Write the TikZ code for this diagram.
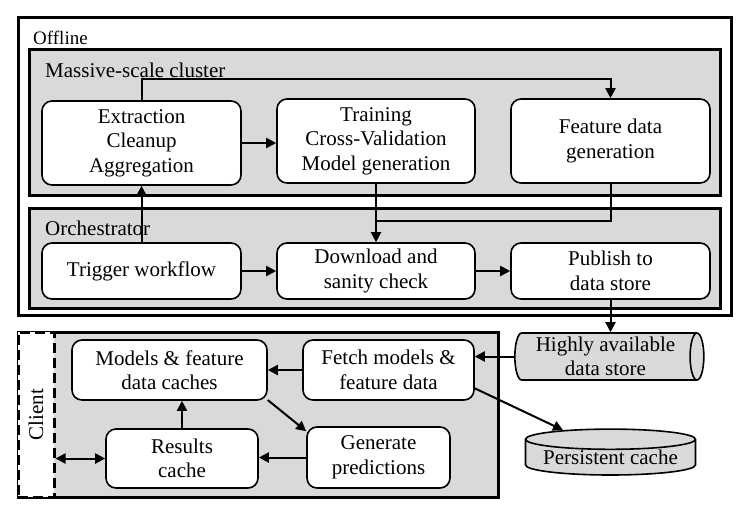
\documentclass[tikz,border=0pt]{standalone}
\usepackage{fontspec}
\setmainfont{Liberation Serif}
\usetikzlibrary{calc}
\usetikzlibrary{positioning}
\usetikzlibrary{shapes.geometric}
\usetikzlibrary{arrows.meta}
\definecolor{panelgray}{RGB}{217,217,217}
\tikzstyle{boxfont} = [font=\fontsize{21}{24.5}\selectfont]
\tikzstyle{stepbox} = [draw, boxfont, rounded corners=10pt, fill=white, line width=1.6pt, align=center, inner sep=0pt]
\tikzstyle{groupbox} = [draw, line width=3pt, fill=panelgray, inner sep=0pt]
\tikzstyle{grouplabel} = [boxfont, anchor=west, inner sep=0pt]
\tikzstyle{store} = [draw, boxfont, cylinder, fill=panelgray, line width=1.6pt, align=center, inner sep=0pt]
\tikzstyle{flow} = [-{Triangle[length=10pt,width=10pt]}, line width=2pt]
\tikzstyle{flowboth} = [{Triangle[length=10pt,width=10pt]}-{Triangle[length=10pt,width=10pt]}, line width=2pt]

\begin{document}
\begin{tikzpicture}[x=1pt, y=-1pt]
    \useasboundingbox (0,0) rectangle (749,512);

    % offline part
    \node[groupbox, fill=white, minimum width=713pt, minimum height=298pt] (offline) at (374.5,166) {};
    \node[grouplabel, font=\fontsize{19}{22}\selectfont] (offline_lbl) at (33,38) {Offline};
    \node[groupbox, minimum width=691pt, minimum height=146pt] (cluster) at (374.5,122) {};
    \node[grouplabel] (cluster_lbl) at (45,70) {Massive-scale cluster};
    \node[groupbox, minimum width=691pt, minimum height=100pt] (orch) at (374.5,258) {};
    \node[grouplabel] (orch_lbl) at (45,228) {Orchestrator};

    \node[stepbox, minimum width=199pt, minimum height=84pt] (extract) at (141.5,143)
{Extraction\\Cleanup\\Aggregation};
    \node[stepbox, minimum width=198pt, minimum height=84pt] (train) at ($(extract)+(234.5,-2)$)
{Training\\Cross-Validation\\Model generation};
    \node[stepbox, minimum width=199pt, minimum height=84pt] (feature) at ($(train)+(234.5,0)$)
{Feature data\\generation};
    \node[stepbox, minimum width=199pt, minimum height=56pt] (trigger) at ($(extract)+(0,128)$)
{Trigger workflow};
    \node[stepbox, minimum width=198pt, minimum height=56pt] (download) at ($(trigger)+(234.5,0)$)
{Download and\\sanity check};
    \node[stepbox, minimum width=199pt, minimum height=56pt] (publish) at ($(download)+(234.5,0)$)
{Publish to\\data store};
    \coordinate (merge) at ($(train.south)+(0,37)$);

    \draw[flow] (extract.north) -- ++(0,-21) -| (feature.north);
    \draw[flow] (extract.east) -- (extract.east -| train.west);
    \draw[flow] (train.south) -- (train.south |- download.north);
    \draw[line width=2pt] (feature.south) |- (merge);
    \draw[flow] (trigger.north) -- (extract.south);
    \draw[flow] (trigger.east) -- (download.west);
    \draw[flow] (download.east) -- (publish.west);

    % stores
    \node[store, aspect=0.35, minimum width=47pt, minimum height=189pt] (hastore) at ($(publish)+(-5,85.5)$)
{Highly available\\data store};
    \node[store, aspect=0.15, shape border rotate=90, minimum width=170pt, minimum height=45pt] (pcache)
at ($(hastore)+(5,101)$) {Persistent cache};
    \draw[flow] (publish.south) -- (publish.south |- hastore.north);

    % client part
    \node[groupbox, minimum width=480pt, minimum height=165pt] (client) at (258,414.5) {};
    \node[groupbox, fill=white, dash pattern=on 10pt off 5pt, minimum width=36pt, minimum height=165pt] (clienttab)
at (36,414.5) {};
    \node[boxfont, rotate=90, inner sep=0pt] (client_lbl) at (clienttab) {Client};

    \node[stepbox, minimum width=195pt, minimum height=60pt] (models) at (169.5,370)
{Models \& feature\\data caches};
    \node[stepbox, minimum width=171pt, minimum height=60pt] (fetch) at ($(models)+(219,0)$)
{Fetch models \&\\feature data};
    \node[stepbox, minimum width=152pt, minimum height=59pt] (results) at ($(models)+(12.5,88.5)$)
{Results\\cache};
    \node[stepbox, minimum width=143pt, minimum height=61pt] (generate) at ($(results)+(196.5,-1)$)
{Generate\\predictions};

    \draw[flow] (hastore.west) -- (hastore.west -| fetch.east);
    \draw[flow] (fetch.west) -- (models.east);
    \draw[flow] (fetch.-12) -- (pcache.150);
    \draw[flow] (models.-17) -- (generate.160);
    \draw[flow] (generate.west) -- (generate.west -| results.east);
    \draw[flow] (results.north) -- (results.north |- models.south);
    \draw[flowboth] (clienttab.east |- results.west) -- (results.west);
\end{tikzpicture}
\end{document}
